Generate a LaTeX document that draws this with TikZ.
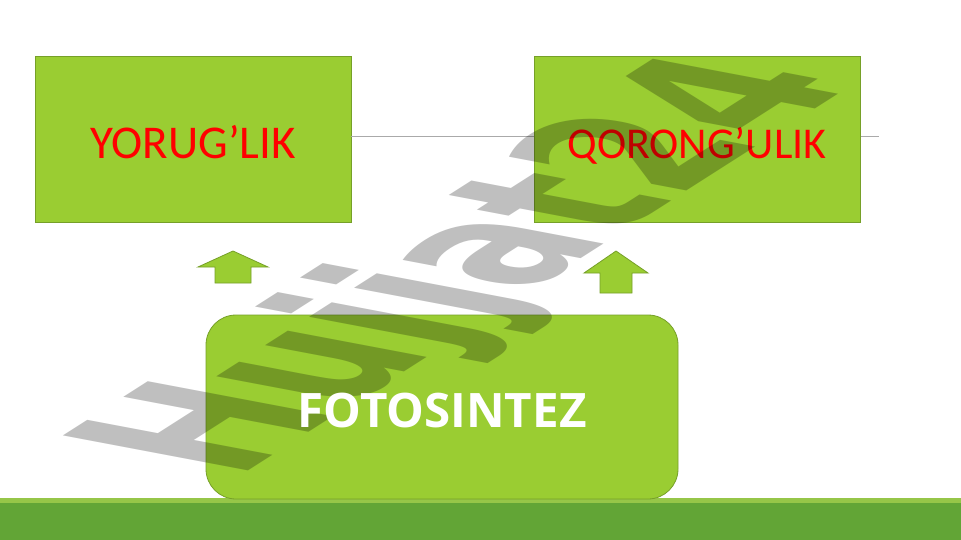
\documentclass[tikz,border=0pt]{standalone}
\usepackage{fontspec}
\newfontfamily\redfont{Carlito}
\newfontfamily\fotofont{Open Sans}
\newfontfamily\wmfont{DejaVu Sans}
\definecolor{boxgreen}{RGB}{154,205,50}
\definecolor{boxedge}{RGB}{118,160,40}
\definecolor{bandlight}{RGB}{150,198,72}
\definecolor{banddark}{RGB}{98,165,54}
\definecolor{linegray}{RGB}{170,170,170}
\definecolor{txtred}{RGB}{255,0,0}
\begin{document}
\begin{tikzpicture}[x=1pt,y=-1pt,
  box/.style={draw=boxedge, line width=0.8pt, fill=boxgreen, inner sep=0pt, text height=40pt, text depth=0pt},
  redtext/.style={text=txtred, font=\redfont\fontsize{47}{56}\selectfont},
  uparrow/.style={draw=boxedge, line width=0.8pt, fill=boxgreen},
  wmark/.style={transform shape, anchor=base west, inner sep=0pt, text=black, text opacity=0.25, font=\wmfont\bfseries\fontsize{100}{120}\selectfont}
]
\useasboundingbox (0,0) rectangle (961,540);
\fill[white] (0,0) rectangle (961,540);
% bottom bands
\fill[bandlight] (0,498) rectangle (961,503);
\fill[banddark] (0,503) rectangle (961,540);
% top boxes and line
\node[box, redtext, minimum width=316pt, minimum height=166pt] (light) at (193,139) {YORUG’LIK};
\coordinate (lineend) at (879,136);
\draw[linegray, line width=0.8pt] (light.east |- lineend) -- (lineend);
\node[box, redtext, font=\redfont\fontsize{44}{52}\selectfont, minimum width=326pt, minimum height=166pt] (dark) at (697,139) {QORONG’ULIK};
% up arrows
\draw[uparrow] (198,267) -- (233,251) -- (268,267) -- (251,267) -- (251,283) -- (215,283) -- (215,267) -- cycle;
\draw[uparrow] (584,273) -- (616,251) -- (648,273) -- (632,273) -- (632,293) -- (600,293) -- (600,273) -- cycle;
% bottom rounded box
\node[box, rounded corners=30pt, minimum width=472pt, minimum height=184pt] (foto) at (442,407) {};
% watermark
\begin{scope}[cm={1.30,0.83,-2.54,0.48,(236,479)}]
\node[wmark] (wm) at (0,0) {Hujjat24};
\end{scope}
\node[inner sep=0pt, text height=40pt, text depth=0pt, text=white, font=\fotofont\bfseries\fontsize{47.5}{56}\selectfont] (fototext) at (foto.center) {FOTOSINTEZ};
\end{tikzpicture}
\end{document}
